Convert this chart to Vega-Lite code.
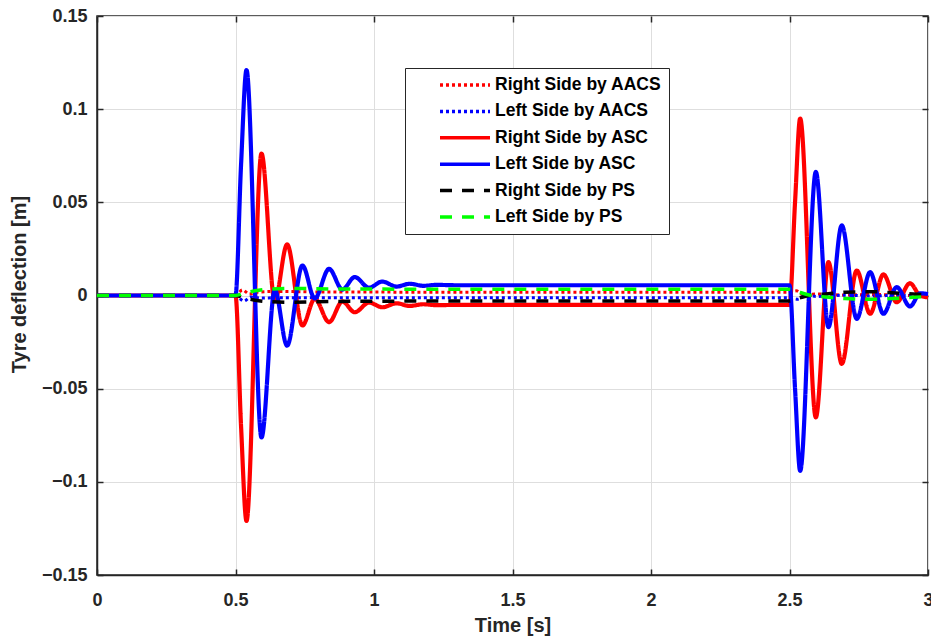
{
  "$schema": "https://vega.github.io/schema/vega-lite/v6.json",
  "width": 831,
  "height": 559,
  "autosize": "none",
  "padding": {"left": 97, "top": 16, "right": 3, "bottom": 61},
  "background": "white",
  "data": {
    "values": [
      {"s": "Right Side by AACS", "t": 0, "v": 0},
      {"s": "Right Side by AACS", "t": 0.5, "v": 0},
      {"s": "Right Side by AACS", "t": 0.525, "v": 0.003},
      {"s": "Right Side by AACS", "t": 0.55, "v": 0.0008},
      {"s": "Right Side by AACS", "t": 0.58, "v": 0.0018},
      {"s": "Right Side by AACS", "t": 0.65, "v": 0.0022},
      {"s": "Right Side by AACS", "t": 0.8, "v": 0.0019},
      {"s": "Right Side by AACS", "t": 1.2, "v": 0.0018},
      {"s": "Right Side by AACS", "t": 2.5, "v": 0.0018},
      {"s": "Right Side by AACS", "t": 2.525, "v": 0.0025},
      {"s": "Right Side by AACS", "t": 2.55, "v": 0.0003},
      {"s": "Right Side by AACS", "t": 2.6, "v": 0.0008},
      {"s": "Right Side by AACS", "t": 2.7, "v": 0.0002},
      {"s": "Right Side by AACS", "t": 2.8, "v": 0.0006},
      {"s": "Right Side by AACS", "t": 2.9, "v": 0.0001},
      {"s": "Right Side by AACS", "t": 3.0, "v": 0},

      {"s": "Left Side by AACS", "t": 0, "v": 0},
      {"s": "Left Side by AACS", "t": 0.5, "v": 0},
      {"s": "Left Side by AACS", "t": 0.53, "v": -0.003},
      {"s": "Left Side by AACS", "t": 0.555, "v": -0.0008},
      {"s": "Left Side by AACS", "t": 0.59, "v": -0.0014},
      {"s": "Left Side by AACS", "t": 0.65, "v": -0.0012},
      {"s": "Left Side by AACS", "t": 1.2, "v": -0.0012},
      {"s": "Left Side by AACS", "t": 2.5, "v": -0.0012},
      {"s": "Left Side by AACS", "t": 2.53, "v": -0.002},
      {"s": "Left Side by AACS", "t": 2.56, "v": 0},
      {"s": "Left Side by AACS", "t": 2.6, "v": -0.0005},
      {"s": "Left Side by AACS", "t": 2.7, "v": 0.0002},
      {"s": "Left Side by AACS", "t": 2.8, "v": -0.0003},
      {"s": "Left Side by AACS", "t": 2.9, "v": 0.0002},
      {"s": "Left Side by AACS", "t": 3.0, "v": 0},

      {"s": "Right Side by ASC", "t": 0, "v": 0},
      {"s": "Right Side by ASC", "t": 0.5, "v": 0},
      {"s": "Right Side by ASC", "t": 0.52, "v": -0.07},
      {"s": "Right Side by ASC", "t": 0.5397, "v": -0.121},
      {"s": "Right Side by ASC", "t": 0.5938, "v": 0.0762},
      {"s": "Right Side by ASC", "t": 0.6418, "v": -0.003},
      {"s": "Right Side by ASC", "t": 0.6863, "v": 0.0274},
      {"s": "Right Side by ASC", "t": 0.7416, "v": -0.0161},
      {"s": "Right Side by ASC", "t": 0.7861, "v": -0.0018},
      {"s": "Right Side by ASC", "t": 0.8378, "v": -0.0143},
      {"s": "Right Side by ASC", "t": 0.8859, "v": -0.0032},
      {"s": "Right Side by ASC", "t": 0.9303, "v": -0.009},
      {"s": "Right Side by ASC", "t": 0.982, "v": -0.0038},
      {"s": "Right Side by ASC", "t": 1.03, "v": -0.0063},
      {"s": "Right Side by ASC", "t": 1.081, "v": -0.0042},
      {"s": "Right Side by ASC", "t": 1.129, "v": -0.0056},
      {"s": "Right Side by ASC", "t": 1.178, "v": -0.0047},
      {"s": "Right Side by ASC", "t": 1.226, "v": -0.0052},
      {"s": "Right Side by ASC", "t": 1.3, "v": -0.005},
      {"s": "Right Side by ASC", "t": 2.5, "v": -0.005},
      {"s": "Right Side by ASC", "t": 2.52, "v": 0.05},
      {"s": "Right Side by ASC", "t": 2.5385, "v": 0.095},
      {"s": "Right Side by ASC", "t": 2.595, "v": -0.0654},
      {"s": "Right Side by ASC", "t": 2.6406, "v": 0.0179},
      {"s": "Right Side by ASC", "t": 2.6887, "v": -0.0367},
      {"s": "Right Side by ASC", "t": 2.7428, "v": 0.0134},
      {"s": "Right Side by ASC", "t": 2.791, "v": -0.0098},
      {"s": "Right Side by ASC", "t": 2.839, "v": 0.0113},
      {"s": "Right Side by ASC", "t": 2.887, "v": -0.0036},
      {"s": "Right Side by ASC", "t": 2.935, "v": 0.0066},
      {"s": "Right Side by ASC", "t": 2.97, "v": 0.0002},
      {"s": "Right Side by ASC", "t": 3.0, "v": -0.001},

      {"s": "Left Side by ASC", "t": 0, "v": 0},
      {"s": "Left Side by ASC", "t": 0.5, "v": 0},
      {"s": "Left Side by ASC", "t": 0.52, "v": 0.07},
      {"s": "Left Side by ASC", "t": 0.5397, "v": 0.121},
      {"s": "Left Side by ASC", "t": 0.5938, "v": -0.0762},
      {"s": "Left Side by ASC", "t": 0.6418, "v": 0.003},
      {"s": "Left Side by ASC", "t": 0.6863, "v": -0.0269},
      {"s": "Left Side by ASC", "t": 0.7416, "v": 0.0161},
      {"s": "Left Side by ASC", "t": 0.7861, "v": -0.0016},
      {"s": "Left Side by ASC", "t": 0.8378, "v": 0.0143},
      {"s": "Left Side by ASC", "t": 0.8859, "v": 0.0032},
      {"s": "Left Side by ASC", "t": 0.9303, "v": 0.0099},
      {"s": "Left Side by ASC", "t": 0.982, "v": 0.0042},
      {"s": "Left Side by ASC", "t": 1.03, "v": 0.0075},
      {"s": "Left Side by ASC", "t": 1.081, "v": 0.0048},
      {"s": "Left Side by ASC", "t": 1.129, "v": 0.0063},
      {"s": "Left Side by ASC", "t": 1.178, "v": 0.0052},
      {"s": "Left Side by ASC", "t": 1.226, "v": 0.0057},
      {"s": "Left Side by ASC", "t": 1.3, "v": 0.0055},
      {"s": "Left Side by ASC", "t": 2.5, "v": 0.0055},
      {"s": "Left Side by ASC", "t": 2.52, "v": -0.05},
      {"s": "Left Side by ASC", "t": 2.5385, "v": -0.0941},
      {"s": "Left Side by ASC", "t": 2.595, "v": 0.0663},
      {"s": "Left Side by ASC", "t": 2.6406, "v": -0.017},
      {"s": "Left Side by ASC", "t": 2.6887, "v": 0.0376},
      {"s": "Left Side by ASC", "t": 2.7428, "v": -0.0125},
      {"s": "Left Side by ASC", "t": 2.791, "v": 0.0125},
      {"s": "Left Side by ASC", "t": 2.839, "v": -0.0098},
      {"s": "Left Side by ASC", "t": 2.887, "v": 0.0045},
      {"s": "Left Side by ASC", "t": 2.935, "v": -0.0059},
      {"s": "Left Side by ASC", "t": 2.972, "v": 0.0012},
      {"s": "Left Side by ASC", "t": 3.0, "v": 0.0008},

      {"s": "Right Side by PS", "t": 0, "v": 0},
      {"s": "Right Side by PS", "t": 0.5, "v": 0},
      {"s": "Right Side by PS", "t": 0.53, "v": -0.0012},
      {"s": "Right Side by PS", "t": 0.57, "v": -0.0025},
      {"s": "Right Side by PS", "t": 0.62, "v": -0.0033},
      {"s": "Right Side by PS", "t": 0.7, "v": -0.0036},
      {"s": "Right Side by PS", "t": 0.85, "v": -0.0032},
      {"s": "Right Side by PS", "t": 1.2, "v": -0.003},
      {"s": "Right Side by PS", "t": 2.5, "v": -0.003},
      {"s": "Right Side by PS", "t": 2.53, "v": -0.0015},
      {"s": "Right Side by PS", "t": 2.57, "v": 0},
      {"s": "Right Side by PS", "t": 2.63, "v": 0.0008},
      {"s": "Right Side by PS", "t": 2.7, "v": 0.0018},
      {"s": "Right Side by PS", "t": 2.8, "v": 0.002},
      {"s": "Right Side by PS", "t": 2.9, "v": 0.0012},
      {"s": "Right Side by PS", "t": 3.0, "v": 0.0003},

      {"s": "Left Side by PS", "t": 0, "v": 0},
      {"s": "Left Side by PS", "t": 0.5, "v": 0},
      {"s": "Left Side by PS", "t": 0.53, "v": 0.0012},
      {"s": "Left Side by PS", "t": 0.57, "v": 0.0025},
      {"s": "Left Side by PS", "t": 0.62, "v": 0.0034},
      {"s": "Left Side by PS", "t": 0.7, "v": 0.0038},
      {"s": "Left Side by PS", "t": 0.85, "v": 0.0035},
      {"s": "Left Side by PS", "t": 1.2, "v": 0.0034},
      {"s": "Left Side by PS", "t": 2.5, "v": 0.0034},
      {"s": "Left Side by PS", "t": 2.53, "v": 0.002},
      {"s": "Left Side by PS", "t": 2.57, "v": 0.0003},
      {"s": "Left Side by PS", "t": 2.63, "v": -0.0008},
      {"s": "Left Side by PS", "t": 2.7, "v": -0.0016},
      {"s": "Left Side by PS", "t": 2.8, "v": -0.002},
      {"s": "Left Side by PS", "t": 2.9, "v": -0.0014},
      {"s": "Left Side by PS", "t": 3.0, "v": -0.0005}
    ]
  },
  "layer": [
    {
      "transform": [{"filter": {"field": "s", "oneOf": ["Right Side by AACS", "Left Side by AACS"]}}],
      "mark": {"type": "line", "interpolate": "monotone", "strokeWidth": 3, "strokeCap": "butt"},
      "encoding": {
        "x": {"field": "t", "type": "quantitative", "scale": {"domain": [0, 3], "nice": false, "zero": false},
          "axis": {"orient": "bottom", "values": [0, 0.5, 1, 1.5, 2, 2.5, 3], "format": "~g", "title": "Time [s]",
            "grid": true, "tickSize": -6, "labelPadding": 22, "labelFlush": false, "titleY": 50, "titleBaseline": "middle"}},
        "y": {"field": "v", "type": "quantitative", "scale": {"domain": [-0.15, 0.15], "nice": false, "zero": false},
          "axis": {"orient": "left", "values": [-0.15, -0.1, -0.05, 0, 0.05, 0.1, 0.15], "format": ".2~f", "title": "Tyre deflection [m]",
            "grid": true, "tickSize": -6, "labelPadding": 16, "titleX": -78, "titleY": 268, "titleBaseline": "middle", "titleAngle": -90}},
        "color": {"field": "s", "type": "nominal", "title": null,
          "scale": {"domain": ["Right Side by AACS", "Left Side by AACS", "Right Side by ASC", "Left Side by ASC", "Right Side by PS", "Left Side by PS"],
            "range": ["#ff0000", "#0000ff", "#ff0000", "#0000ff", "#000000", "#00ff00"]},
          "legend": {"orient": "none", "legendX": 308, "legendY": 52}},
        "strokeDash": {"field": "s", "type": "nominal", "title": null,
          "scale": {"domain": ["Right Side by AACS", "Left Side by AACS", "Right Side by ASC", "Left Side by ASC", "Right Side by PS", "Left Side by PS"],
            "range": [[3, 3], [3, 3], [1, 0], [1, 0], [12, 10], [12, 10]]},
          "legend": {"orient": "none", "legendX": 308, "legendY": 52}}
      }
    },
    {
      "transform": [{"filter": {"field": "s", "oneOf": ["Right Side by ASC", "Left Side by ASC"]}}],
      "mark": {"type": "line", "interpolate": "monotone", "strokeWidth": 4.2, "strokeCap": "butt"},
      "encoding": {
        "x": {"field": "t", "type": "quantitative", "axis": null},
        "y": {"field": "v", "type": "quantitative", "axis": null},
        "color": {"field": "s", "type": "nominal", "title": null},
        "strokeDash": {"field": "s", "type": "nominal", "title": null}
      }
    },
    {
      "transform": [{"filter": {"field": "s", "oneOf": ["Right Side by PS", "Left Side by PS"]}}],
      "mark": {"type": "line", "interpolate": "monotone", "strokeWidth": 3.5, "strokeCap": "butt"},
      "encoding": {
        "x": {"field": "t", "type": "quantitative", "axis": null},
        "y": {"field": "v", "type": "quantitative", "axis": null},
        "color": {"field": "s", "type": "nominal", "title": null},
        "strokeDash": {"field": "s", "type": "nominal", "title": null}
      }
    },
    {
      "mark": {"type": "point", "opacity": 0},
      "encoding": {
        "x": {"field": "t", "type": "quantitative",
          "axis": {"orient": "top", "values": [0, 0.5, 1, 1.5, 2, 2.5, 3], "labels": false, "title": null, "grid": false, "domain": false, "tickSize": -6}},
        "y": {"field": "v", "type": "quantitative",
          "axis": {"orient": "right", "values": [-0.15, -0.1, -0.05, 0, 0.05, 0.1, 0.15], "labels": false, "title": null, "grid": false, "domain": false, "tickSize": -6}}
      }
    }
  ],
  "resolve": {"axis": {"x": "independent", "y": "independent"}},
  "config": {
    "view": {"stroke": "#262626", "strokeWidth": 1.5},
    "axis": {
      "labelFont": "Liberation Sans", "labelFontSize": 18, "labelFontWeight": "bold", "labelColor": "#262626",
      "titleFont": "Liberation Sans", "titleFontSize": 20, "titleFontWeight": "bold", "titleColor": "#262626",
      "domainColor": "#262626", "domainWidth": 1.5, "tickColor": "#262626", "tickWidth": 1.5,
      "gridColor": "#dedede", "gridWidth": 1
    },
    "legend": {
      "padding": 7, "fillColor": "white", "strokeColor": "#262626",
      "symbolType": "stroke", "symbolSize": 2500, "symbolStrokeWidth": 3.5,
      "symbolOffset": 26, "labelOffset": 3, "clipHeight": 20, "rowPadding": 6.4,
      "labelExpr": "datum.label + '\u00a0\u00a0\u00a0'",
      "labelFont": "Liberation Sans", "labelFontSize": 17.5, "labelFontWeight": "bold", "labelColor": "#000000", "labelLimit": 400
    }
  }
}
